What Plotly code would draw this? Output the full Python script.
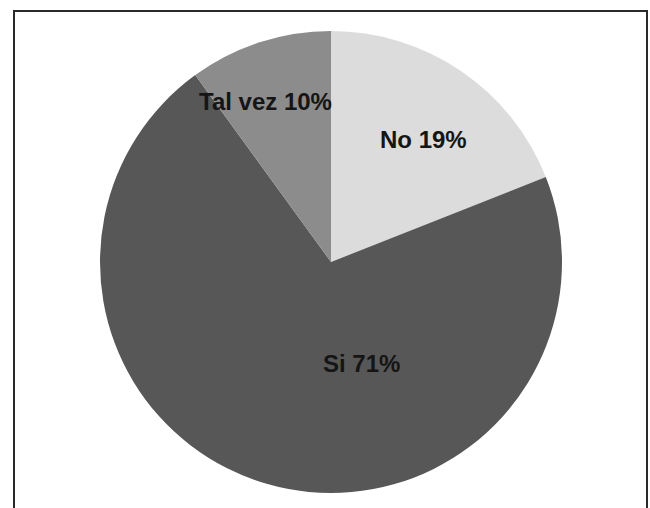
import plotly.graph_objects as go

labels = ["No", "Si", "Tal vez"]
values = [19, 71, 10]
colors = ["#dcdcdc", "#575757", "#8c8c8c"]

W, H = 650, 508
cx, cy, r = 331, 262, 231

fig = go.Figure(go.Pie(
    labels=labels, values=values, sort=False, direction="clockwise", rotation=0,
    marker=dict(colors=colors, line=dict(width=0)),
    textinfo="none", hoverinfo="label+percent", showlegend=False,
    domain=dict(x=[(cx - r) / W, (cx + r) / W], y=[(H - cy - r) / H, (H - cy + r) / H]),
))

# label positions (pixels) for each slice
label_pos = [(423, 140), (361, 363), (265, 102)]
for lab, val, (px, py) in zip(labels, values, label_pos):
    fig.add_annotation(x=px / W, y=1 - py / H, xref="paper", yref="paper",
                       xanchor="center", yanchor="middle",
                       text=f"<b>{lab} {val}%</b>", showarrow=False,
                       font=dict(family="Liberation Sans, Arial", size=24, color="#151515"))

fig.add_shape(type="rect", xref="paper", yref="paper",
              x0=14 / W, x1=647 / W, y0=-0.05, y1=1 - 11 / H,
              line=dict(color="#2a2a2a", width=2))

fig.update_layout(width=W, height=H, margin=dict(l=0, r=0, t=0, b=0),
                  paper_bgcolor="white", plot_bgcolor="white")
fig.write_html("out.html")
